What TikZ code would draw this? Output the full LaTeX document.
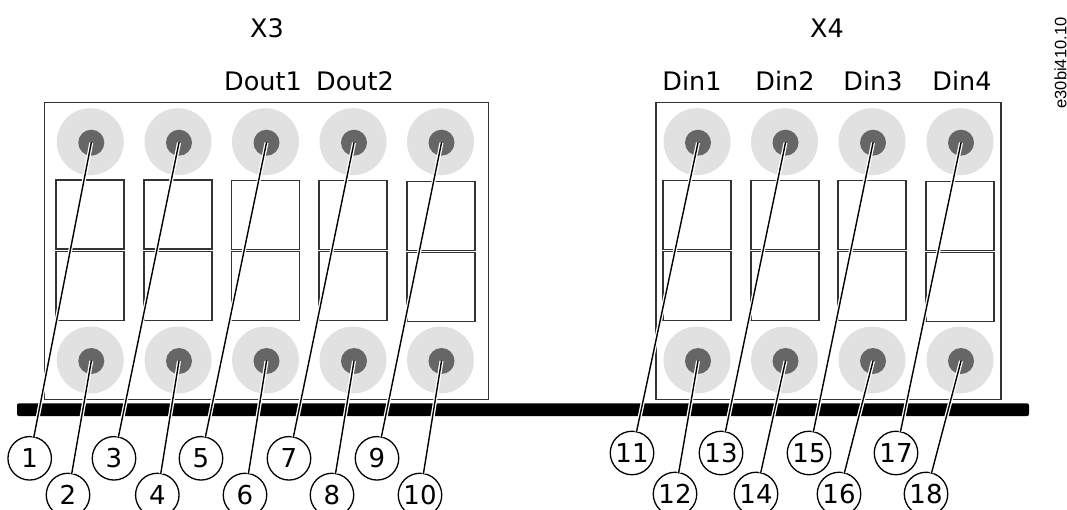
\documentclass[tikz,border=0pt]{standalone}
\usepackage{fontspec}
\setmainfont{DejaVu Sans}
\newfontfamily\codefont{Liberation Sans}
\usepackage{tikz}
\definecolor{pale}{HTML}{E1E1E1}
\definecolor{hub}{HTML}{666666}
\definecolor{edgegray}{HTML}{333333}
\tikzstyle{l1} = [rectangle, draw=edgegray, line width=1.3pt, inner sep=0pt, outer sep=0pt]
\tikzstyle{l2} = [l1, minimum width=68pt, minimum height=69pt]
\tikzstyle{pad} = [circle, fill=pale, minimum size=67pt, inner sep=0pt, outer sep=0pt]
\tikzstyle{pin} = [circle, fill=hub, minimum size=26pt, inner sep=0pt, outer sep=0pt]
\tikzstyle{num} = [circle, draw, line width=1.3pt, minimum size=43.5pt, inner sep=0pt, outer sep=0pt, font=\fontsize{26}{26}\selectfont]
\tikzstyle{lbl} = [inner sep=0pt, font=\fontsize{25.5}{26}\selectfont]
\tikzstyle{lead} = [line width=1.4pt, line cap=round, preaction={draw=white, line width=4pt}]

\begin{document}
\begin{tikzpicture}[x=1pt, y=-1pt]
\useasboundingbox (0,0) rectangle (1067,510);
\node(LB)[l1, minimum width=444pt, minimum height=297pt] at (266.5,251) {};
\node(RB)[l1, minimum width=345pt, minimum height=297pt] at (828.5,251) {};
\node(BAR)[fill=black, rounded corners=2pt, inner sep=0pt, minimum width=1012pt, minimum height=12.7pt] at (523,409.7) {};
\node(X3)[lbl] at (267,28) {X3};
\node(X4)[lbl] at (827,28) {X4};
\node(DO1)[lbl] at (263,81) {Dout1};
\node(DO2)[lbl] at (355,81) {Dout2};
\node(DI1)[lbl] at (692,81) {Din1};
\node(DI2)[lbl] at (785,81) {Din2};
\node(DI3)[lbl] at (873,81) {Din3};
\node(DI4)[lbl] at (962,81) {Din4};
\node(CODE)[inner sep=0pt, rotate=90, font=\codefont\fontsize{16.5}{17}\selectfont] at (1060.5,63) {e30bi410.10};
\node(S1)[l2] at (90,214.5) {};
\node(S2)[l2] at (178,214.5) {};
\node(S3)[l2] at (265.5,215) {};
\node(S4)[l2] at (353,215) {};
\node(S5)[l2] at (441,216) {};
\node(S6)[l2] at (90,286) {};
\node(S7)[l2] at (178,286) {};
\node(S8)[l2] at (265.5,286) {};
\node(S9)[l2] at (353,286) {};
\node(S10)[l2] at (441,287) {};
\node(S11)[l2] at (697,215) {};
\node(S12)[l2] at (785,215) {};
\node(S13)[l2] at (872,215) {};
\node(S14)[l2] at (960,216) {};
\node(S15)[l2] at (697,286) {};
\node(S16)[l2] at (785,286) {};
\node(S17)[l2] at (872,286) {};
\node(S18)[l2] at (960,287) {};
\node(P1)[pad] at (90.3,141.7) {};
\node(P3)[pad] at (178,141.7) {};
\node(P5)[pad] at (265.5,141.7) {};
\node(P7)[pad] at (353,141.7) {};
\node(P9)[pad] at (440.5,141.7) {};
\node(P2)[pad] at (90.3,360) {};
\node(P4)[pad] at (178,360) {};
\node(P6)[pad] at (265.5,360) {};
\node(P8)[pad] at (353,360) {};
\node(P10)[pad] at (440.5,360) {};
\node(P11)[pad] at (697,141.7) {};
\node(P13)[pad] at (784.5,141.7) {};
\node(P15)[pad] at (872,141.7) {};
\node(P17)[pad] at (960,141.7) {};
\node(P12)[pad] at (697,360) {};
\node(P14)[pad] at (784.5,360) {};
\node(P16)[pad] at (872,360) {};
\node(P18)[pad] at (960,360) {};
\node(H1)[pin] at (91.3,142.7) {};
\node(H3)[pin] at (179,142.7) {};
\node(H5)[pin] at (266.5,142.7) {};
\node(H7)[pin] at (354,142.7) {};
\node(H9)[pin] at (441.5,142.7) {};
\node(H2)[pin] at (91.3,361) {};
\node(H4)[pin] at (179,361) {};
\node(H6)[pin] at (266.5,361) {};
\node(H8)[pin] at (354,361) {};
\node(H10)[pin] at (441.5,361) {};
\node(H11)[pin] at (698,142.7) {};
\node(H13)[pin] at (785.5,142.7) {};
\node(H15)[pin] at (873,142.7) {};
\node(H17)[pin] at (961,142.7) {};
\node(H12)[pin] at (698,361) {};
\node(H14)[pin] at (785.5,361) {};
\node(H16)[pin] at (873,361) {};
\node(H18)[pin] at (961,361) {};
\node(N1)[num] at (29.7,458.3) {1};
\node(N2)[num] at (68,495) {2};
\node(N3)[num] at (114,458.3) {3};
\node(N4)[num] at (157.3,495) {4};
\node(N5)[num] at (201,458.3) {5};
\node(N6)[num] at (245,495) {6};
\node(N7)[num] at (289,458.3) {7};
\node(N8)[num] at (332,495) {8};
\node(N9)[num] at (377,458.3) {9};
\node(N10)[num] at (420,495) {10};
\node(N11)[num] at (632,453) {11};
\node(N12)[num] at (675,494) {12};
\node(N13)[num] at (721,453) {13};
\node(N14)[num] at (756,494) {14};
\node(N15)[num] at (809,453) {15};
\node(N16)[num] at (839,494) {16};
\node(N17)[num] at (896,453) {17};
\node(N18)[num] at (926,494) {18};
\draw[lead](N1)--(H1.center);
\draw[lead](N2)--(H2.center);
\draw[lead](N3)--(H3.center);
\draw[lead](N4)--(H4.center);
\draw[lead](N5)--(H5.center);
\draw[lead](N6)--(H6.center);
\draw[lead](N7)--(H7.center);
\draw[lead](N8)--(H8.center);
\draw[lead](N9)--(H9.center);
\draw[lead](N10)--(H10.center);
\draw[lead](N11)--(H11.center);
\draw[lead](N12)--(H12.center);
\draw[lead](N13)--(H13.center);
\draw[lead](N14)--(H14.center);
\draw[lead](N15)--(H15.center);
\draw[lead](N16)--(H16.center);
\draw[lead](N17)--(H17.center);
\draw[lead](N18)--(H18.center);
\end{tikzpicture}
\end{document}
